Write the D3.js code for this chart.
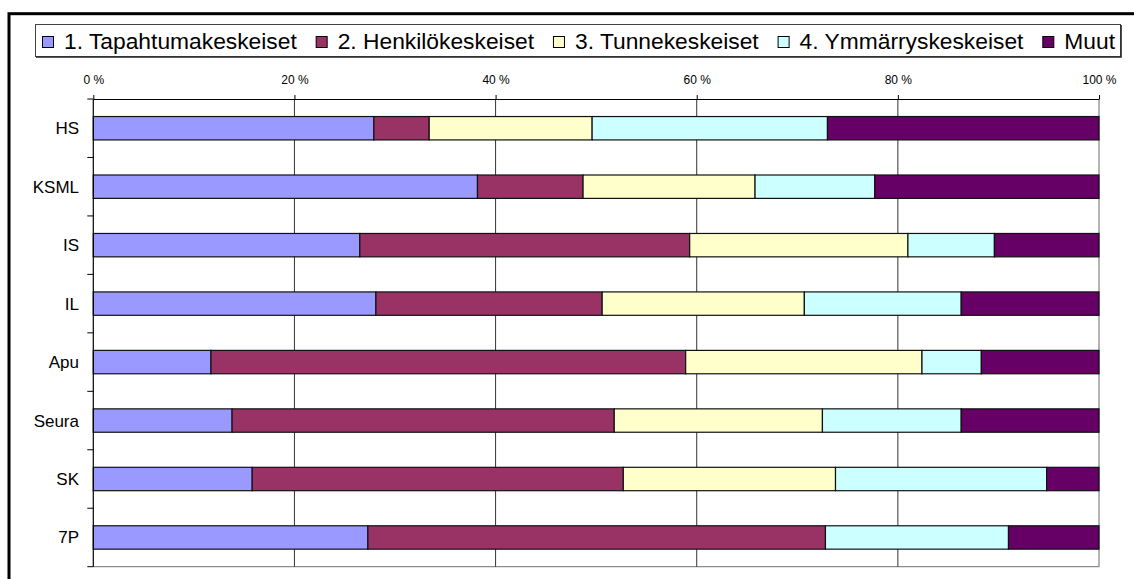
<!DOCTYPE html>
<html><head><meta charset="utf-8">
<script src="https://cdn.jsdelivr.net/npm/d3@7"></script>
<style>body{margin:0;background:#fff}svg{display:block;font-family:"Liberation Sans",Arial,sans-serif}</style>
</head><body>
<svg id="c" width="1134" height="579"></svg>
<script>
const categories = ["HS","KSML","IS","IL","Apu","Seura","SK","7P"];
const seriesNames = ["1. Tapahtumakeskeiset","2. Henkilökeskeiset","3. Tunnekeskeiset","4. Ymmärryskeskeiset","Muut"];
const tapahtuma = [27.9, 38.2, 26.5, 28.1, 11.7, 13.8, 15.8, 27.3];
const henkilo   = [ 5.5, 10.5, 32.8, 22.5, 47.2, 38.0, 36.9, 45.5];
const tunne     = [16.2, 17.1, 21.7, 20.1, 23.5, 20.7, 21.1,  0.0];
const ymmarrys  = [23.4, 11.9,  8.6, 15.6,  5.9, 13.8, 21.0, 18.2];
const muut      = [27.0, 22.3, 10.4, 13.7, 11.7, 13.7,  5.2,  9.0];
const tickValues = [0, 20, 40, 60, 80, 100];
const colors = ["#9999FF","#993366","#FFFFCC","#CCFFFF","#660066"];

const seriesValues = [tapahtuma, henkilo, tunne, ymmarrys, muut];
const table = categories.map((c, i) => {
  const row = {cat: c};
  seriesNames.forEach((s, j) => row[s] = seriesValues[j][i]);
  return row;
});
const stacked = d3.stack().keys(seriesNames)
  .offset(d3.stackOffsetExpand)(table);

const svg = d3.select("#c");
const L = 93.3, R = 1099, T = 99, B = 566.7;

// outer border
svg.append("rect").attr("x", 9).attr("y", 13.7).attr("width", 1200).attr("height", 700)
  .attr("fill", "none").attr("stroke", "#000").attr("stroke-width", 3);

const x = d3.scaleLinear().domain([0, 1]).range([L, R]);
const y = d3.scaleBand().domain(categories).range([T, B]).paddingInner(0.6).paddingOuter(0.3);

// plot area border (gray right/bottom)
svg.append("path").attr("d", `M${R},${T}V${B}H${L}`).attr("fill", "none").attr("stroke", "#8c8c8c").attr("stroke-width", 1.3);

// gridlines
svg.append("g").selectAll("line").data(tickValues.slice(1, -1)).join("line")
  .attr("x1", d => x(d / 100)).attr("x2", d => x(d / 100))
  .attr("y1", T).attr("y2", B).attr("stroke", "#333").attr("stroke-width", 1);

// bars
svg.append("g").selectAll("g").data(stacked).join("g")
  .attr("fill", (d, i) => colors[i])
  .selectAll("rect").data(d => d).join("rect")
  .attr("x", d => x(d[0])).attr("width", d => Math.max(0, x(d[1]) - x(d[0])))
  .attr("y", d => y(d.data.cat)).attr("height", y.bandwidth())
  .attr("stroke", d => (d[1] - d[0]) > 0 ? "#111" : "none").attr("stroke-width", 1.2);

// top axis
const xAxis = d3.axisTop(x).tickValues(tickValues.map(v => v / 100))
  .tickFormat(d => Math.round(d * 100) + " %").tickSize(4).tickSizeOuter(0).tickPadding(11);
const gx = svg.append("g").attr("transform", `translate(0,${T})`).call(xAxis);
gx.select(".domain").attr("stroke", "#000").attr("stroke-width", 1.2);
gx.selectAll(".tick line").attr("stroke", "#000");
gx.selectAll("text").attr("font-size", 12).attr("fill", "#000")
  .attr("font-family", "'Liberation Sans',Arial,sans-serif");

// left category axis
svg.append("line").attr("x1", L).attr("x2", L).attr("y1", T).attr("y2", B).attr("stroke", "#000").attr("stroke-width", 1.2);
const bounds = d3.range(categories.length + 1).map(i => T + i * (B - T) / categories.length);
svg.append("g").selectAll("line").data(bounds).join("line")
  .attr("x1", L - 6).attr("x2", L).attr("y1", d => d).attr("y2", d => d).attr("stroke", "#000");
svg.append("g").selectAll("text").data(categories).join("text")
  .attr("x", 79).attr("y", d => y(d) + y.bandwidth() / 2 + 6)
  .attr("text-anchor", "end").attr("font-size", 17).attr("fill", "#000").text(d => d);

// legend
const lg = svg.append("g");
lg.append("rect").attr("x", 35.5).attr("y", 24.5).attr("width", 1085).attr("height", 32)
  .attr("fill", "#fff").attr("stroke", "#444").attr("stroke-width", 1);
lg.append("path").attr("d", "M36,57.2H1121.2V25").attr("fill", "none").attr("stroke", "#222").attr("stroke-width", 1.2);
const fs = 22.8;
const items = lg.selectAll("g").data(seriesNames).join("g");
items.append("rect").attr("width", 11).attr("height", 11).attr("y", 36.5)
  .attr("fill", (d, i) => colors[i]).attr("stroke", "#000").attr("stroke-width", 1);
items.append("text").attr("y", 49).attr("font-size", fs).attr("fill", "#000").text(d => d);
const widths = items.select("text").nodes().map(n => n.getComputedTextLength());
const startX = 42, endX = 1115, sq = 12, g1 = 10;
const totalFixed = widths.reduce((a, b) => a + b, 0) + seriesNames.length * (sq + g1);
const g2 = (endX - startX - totalFixed) / (seriesNames.length - 1);
let cx = startX;
items.each(function(d, i) {
  const g = d3.select(this);
  g.select("rect").attr("x", cx + 0.5);
  g.select("text").attr("x", cx + sq + g1);
  cx += sq + g1 + widths[i] + g2;
});
</script>
</body></html>
